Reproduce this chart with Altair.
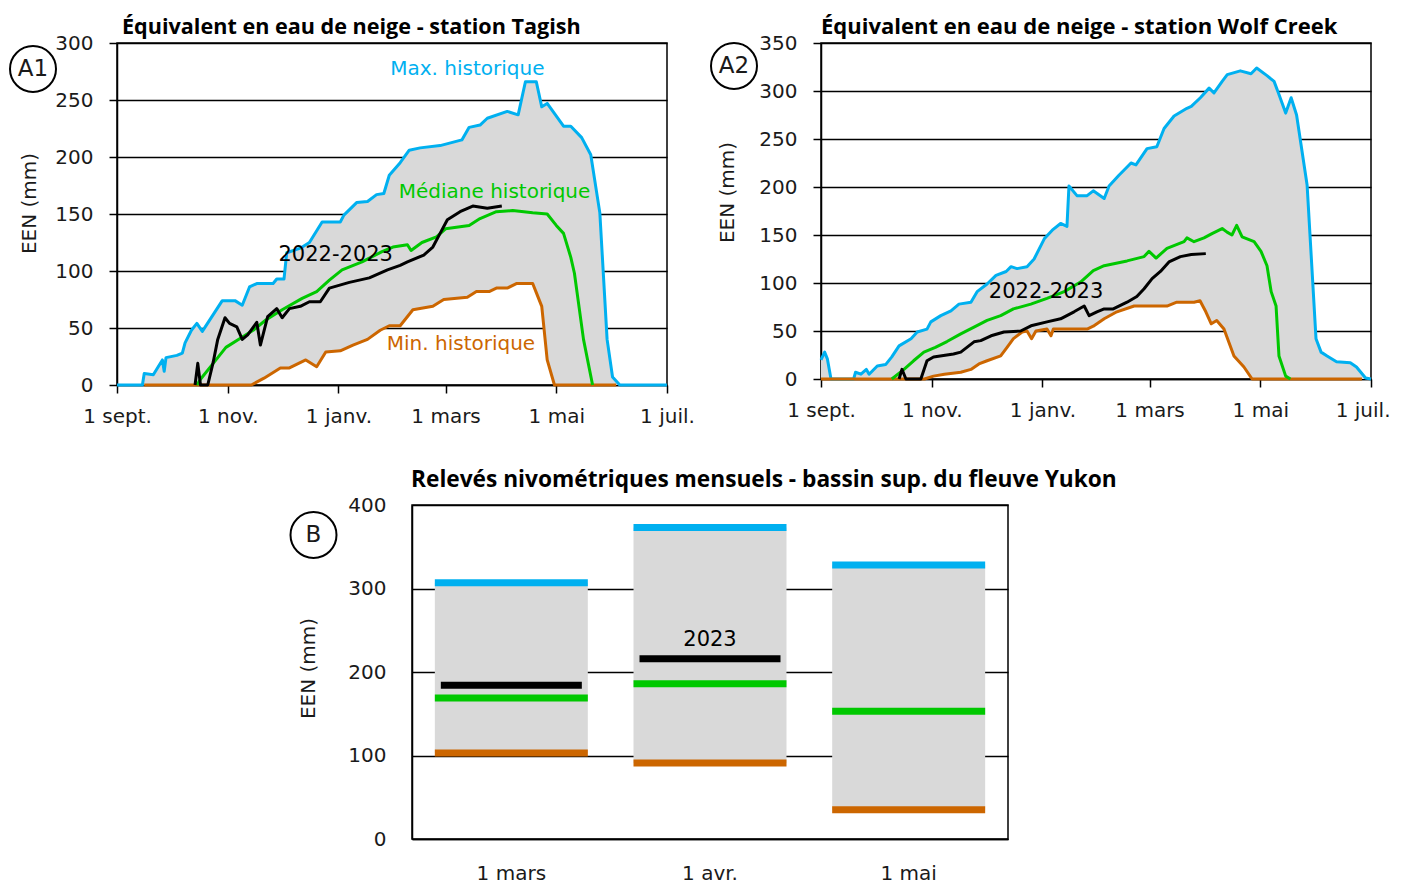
import altair as alt
import pandas as pd
import numpy as np

FONT = "DejaVu Sans"
TITLE_FONT = "Open Sans"
BLUE = "#00b0f0"
GREEN = "#00c800"
ORANGE = "#cc6600"
GREY = "#d9d9d9"
INK = "#1a1a1a"

# x axis (days since 1 Sept 2022)
tick_days = [0, 61, 122, 181, 242, 303]
tick_labels = ["1 sept.", "1 nov.", "1 janv.", "1 mars", "1 mai", "1 juil."]

# ---------------- A1 : Tagish ----------------
tag_max_day = [0, 14, 15, 20, 25, 26, 27, 33, 36, 37.5, 41, 44, 47, 58, 65, 69, 73, 77, 86, 88, 92, 93.5,
               101, 106, 113, 123, 125, 132, 138, 143, 147, 150, 156, 161, 167, 178, 190, 194, 200, 204,
               215, 221, 225, 231, 234, 237, 246, 250, 256, 261, 266, 270, 273, 277, 303]
tag_max_val = [0, 0, 10, 9, 22, 12, 24, 26, 28, 37, 48, 54, 47, 74, 74, 70, 86, 89, 89, 93, 93, 116,
               120, 125, 143, 143, 149, 160, 161, 167, 168, 184, 195, 206, 208, 210, 215, 226, 228, 234,
               240, 237, 266, 266, 244, 247, 227, 227, 217, 202, 151, 40, 7, 0, 0]
tag_med_day = [44, 46, 53, 60, 68, 75, 82, 91, 102, 110, 117, 124, 135, 146, 152, 160, 162, 168, 176, 181,
               194, 200, 209, 218, 229, 237, 242, 246, 250, 252, 257, 262]
tag_med_val = [0, 5, 19, 33, 41, 48, 57, 66, 76, 82, 92, 101, 108, 117, 121, 123, 118, 125, 130, 137,
               140, 146, 152, 153, 151, 150, 140, 133, 112, 98, 40, 0]
tag_min_day = [15, 74, 81, 90, 95, 104, 110, 115, 123, 130, 138, 145, 150, 156, 163, 174, 180, 193, 198,
               205, 209, 215, 220, 229, 231, 234, 237, 241, 275]
tag_min_val = [0, 0, 6, 15, 15, 22, 16, 29, 30, 35, 40, 48, 52, 52, 66, 69, 75, 77, 82,
               82, 85, 85, 89, 89, 81, 69, 22, 0, 0]
tag_cur_day = [43, 44.5, 46, 50, 53, 55.5, 59.5, 62, 66, 69, 72, 77, 79, 83, 88, 91, 95, 101, 106, 112,
               117, 128, 139, 149, 156, 160, 169, 174, 178, 182, 189, 196, 204, 212]
tag_cur_val = [0, 19, 0, 0, 20, 40, 59, 54, 51, 40, 44, 55, 35, 60, 67, 59, 67, 69, 73, 73,
               85, 90, 94, 101, 105, 108, 114, 121, 133, 145, 152, 157, 155, 157]
tag_lbl_text = ["Max. historique", "Médiane historique", "2022-2023", "Min. historique"]
tag_lbl_day = [193, 208, 120.5, 189.5]
tag_lbl_val = [277, 169, 114, 36]
tag_lbl_col = [BLUE, GREEN, "#000000", ORANGE]
tag_lbl_size = [20, 20, 21, 20]

# ---------------- A2 : Wolf Creek ----------------
wc_max_day = [0, 2, 3.5, 5.5, 18, 19, 22, 25, 26.5, 31, 35.6, 39, 43, 49.6, 53, 58.4, 60.5, 66, 71.6, 76,
              82.6, 86, 91.5, 96.4, 102, 104.7, 108, 113.5, 117.4, 123, 127.4, 132, 135.5, 136.6, 141,
              146.6, 150, 156, 158.7, 164, 170.8, 173.5, 179.6, 185, 189, 194.5, 201.6, 204, 209, 213.8,
              216.5, 221, 223.8, 231, 236.9, 240, 245.7, 249.6, 252, 256, 259, 262, 267.8, 272.7, 275.5,
              278.8, 284, 291.6, 295, 300, 303]
wc_max_val = [20, 28, 21, 0, 0, 7, 5, 10, 5, 13.6, 15, 23, 34.5, 42, 49, 52, 59.5, 66, 71, 78,
              80, 91, 99, 108, 112, 117, 115, 117, 125, 146, 155, 162, 159, 201, 191,
              191, 196, 188, 201, 212, 225, 223, 240, 242, 261, 274, 282, 284, 293, 303,
              298, 310, 317, 321, 318, 324, 316, 310, 298, 277, 293, 275, 202, 42, 28,
              24, 18, 17, 12.5, 1, 0]
wc_med_day = [39, 45.7, 51, 56.7, 63, 69.4, 77, 84.3, 91.5, 99, 106, 115.6, 124.5, 134, 143, 150, 156,
              168.6, 178, 180.7, 184.6, 190.6, 200, 201.6, 205.5, 211, 215.4, 221, 223.7, 226.4, 229, 232,
              238.6, 242.4, 245.7, 248, 250.7, 252.3, 256, 258.6]
wc_med_val = [0, 10, 19, 28, 33, 39, 47, 54, 61, 66, 73, 78, 84, 91, 101, 113, 118,
              123, 127.5, 133, 126, 136, 143, 147, 143, 147, 151.5, 156.7, 153, 150, 160, 148,
              143, 133, 118, 91, 76, 24, 3, 0]
wc_min_day = [0, 57, 62, 68, 77, 82.6, 87, 91.5, 99, 102.5, 106, 110.8, 113.5, 116, 118.4, 124.5, 126.7,
              128, 146.6, 150, 156, 163, 172.5, 190.6, 196, 205.5, 208.8, 212, 215, 218, 222, 227.5, 233,
              237.5, 298]
wc_min_val = [0, 0, 3, 5, 7, 10, 15.7, 19, 24, 33, 42, 49, 50, 42, 50, 52, 45,
              52, 52, 55, 62.7, 70, 76, 76, 80, 80, 81.5, 70, 57.5, 61, 52, 24, 12.5,
              0, 0]
wc_cur_day = [43, 44.6, 46.8, 55, 58.4, 62, 73, 77, 84.3, 88, 93.7, 100.8, 110, 115.7, 124.5, 132, 139.4,
              145, 147.7, 152, 156, 161, 168.6, 174, 178, 182.4, 187, 191.7, 198, 204, 212]
wc_cur_val = [0, 10, 0, 0, 19, 23, 26, 28, 38.7, 40, 45, 49, 50, 55.4, 59.5, 62.7, 70,
              76, 66, 70, 73, 73, 80, 86, 94, 104.5, 112, 122, 127.5, 129.6, 130.6]
wc_lbl_text = ["2022-2023"]
wc_lbl_day = [124]
wc_lbl_val = [91]
wc_lbl_col = ["#000000"]
wc_lbl_size = [21]

# ---------------- B : monthly surveys ----------------
b_months = ["1 mars", "1 avr.", "1 mai"]
b_max = [307, 373, 328]
b_median = [169, 186, 153]
b_min = [103, 91, 35]
b_2023 = [184, 216, None]

label_expr = ("[" + ",".join(f"'{t}'" for t in tick_labels) + "][indexof(["
              + ",".join(str(d) for d in tick_days) + "], datum.value)]")
last_test = f"datum.value == {tick_days[-1]}"


def circle_label(text, cx, cy):
    d = pd.DataFrame({"t": [text]})
    ring = alt.Chart(d).mark_point(shape="circle", size=2116, filled=False, stroke="black",
                                   strokeWidth=2, opacity=1).encode(x=alt.value(cx), y=alt.value(cy))
    txt = alt.Chart(d).mark_text(font=FONT, fontSize=23, color=INK).encode(
        x=alt.value(cx), y=alt.value(cy), text="t:N")
    return [ring, txt]


def title_text(text, dx, dy, size):
    d = pd.DataFrame({"t": [text]})
    return alt.Chart(d).mark_text(font=TITLE_FONT, fontSize=size, fontWeight="bold", color="#000000",
                                  align="left", baseline="alphabetic").encode(
        x=alt.value(dx), y=alt.value(dy), text="t:N")


def station(title, ytop, height, mx, mn, med, cur, lbl, circ, ttx, tty, tdx, tsize, pull_last):
    max_d, max_v = mx
    min_d, min_v = mn
    grid = sorted(set(max_d) | set(min_d))
    band = pd.DataFrame({"day": grid,
                         "hi": np.interp(grid, max_d, max_v),
                         "lo": np.interp(grid, min_d, min_v, left=0, right=0)})
    xaxis_kw = dict(values=tick_days, labelExpr=label_expr, grid=False, tickSize=8,
                    labelPadding=13, title=None, labelFlush=False)
    if pull_last:
        xaxis_kw["labelAlign"] = {"condition": {"test": last_test, "value": "right"}, "value": "center"}
        xaxis_kw["labelOffset"] = {"condition": {"test": last_test, "value": 19}, "value": 0}
    x = alt.X("day:Q", scale=alt.Scale(domain=[0, 303], nice=False, zero=False),
              axis=alt.Axis(**xaxis_kw))
    y = alt.Y("hi:Q", scale=alt.Scale(domain=[0, ytop], nice=False),
              axis=alt.Axis(values=list(range(0, ytop + 1, 50)), grid=True, tickSize=8,
                            labelPadding=16, title="EEN (mm)", titleX=ttx, titleY=tty,
                            labelFlush=False))
    layers = [alt.Chart(band).mark_area(color=GREY, opacity=1).encode(x=x, y=y, y2="lo:Q")]
    for (d, v), col in [(mx, BLUE), (mn, ORANGE), (med, GREEN), (cur, "#000000")]:
        df = pd.DataFrame({"day": d, "val": v})
        layers.append(alt.Chart(df).mark_line(color=col, strokeWidth=3, strokeJoin="round")
                      .encode(x="day:Q", y="val:Q"))
    t, dd, vv, cc, ss = lbl
    ldf = pd.DataFrame({"text": t, "day": dd, "val": vv, "col": cc, "size": ss})
    layers.append(alt.Chart(ldf).mark_text(font=FONT).encode(
        x="day:Q", y="val:Q", text="text:N", color=alt.Color("col:N", scale=None),
        size=alt.Size("size:Q", scale=None)))
    layers += circle_label(*circ)
    layers.append(title_text(title, tdx, -9, tsize))
    return alt.layer(*layers).properties(width=550, height=height)


a1 = station("Équivalent en eau de neige - station Tagish", 300, 342,
             (tag_max_day, tag_max_val), (tag_min_day, tag_min_val),
             (tag_med_day, tag_med_val), (tag_cur_day, tag_cur_val),
             (tag_lbl_text, tag_lbl_day, tag_lbl_val, tag_lbl_col, tag_lbl_size),
             ("A1", -84, 26), -77.5, 160, 5, 21.6, False)
a2 = station("Équivalent en eau de neige - station Wolf Creek", 350, 336,
             (wc_max_day, wc_max_val), (wc_min_day, wc_min_val),
             (wc_med_day, wc_med_val), (wc_cur_day, wc_cur_val),
             (wc_lbl_text, wc_lbl_day, wc_lbl_val, wc_lbl_col, wc_lbl_size),
             ("A2", -87, 23), -83.5, 149, 0, 22, True)

bdf = pd.DataFrame({"month": b_months, "max": b_max, "median": b_median, "min": b_min, "cur": b_2023})
bx = alt.X("month:N", sort=b_months,
           scale=alt.Scale(paddingInner=0.23, paddingOuter=0.115),
           axis=alt.Axis(labelAngle=0, ticks=False, labelPadding=24, title=None))
by = alt.Y("min:Q", scale=alt.Scale(domain=[0, 400], nice=False),
           axis=alt.Axis(values=[0, 100, 200, 300, 400], ticks=False, labelPadding=26, grid=True,
                         title="EEN (mm)", titleX=-93.5, titleY=163))
b_layers = [alt.Chart(bdf).mark_bar(color=GREY).encode(x=bx, y=by, y2="max:Q")]
for field, col, size in [("min", ORANGE, 153), ("median", GREEN, 153), ("max", BLUE, 153)]:
    b_layers.append(alt.Chart(bdf).mark_tick(color=col, thickness=7, size=size, opacity=1)
                    .encode(x=alt.X("month:N", sort=b_months), y=alt.Y(f"{field}:Q")))
cur_df = bdf.dropna(subset=["cur"])
b_layers.append(alt.Chart(cur_df).mark_tick(color="#000000", thickness=7, size=141, opacity=1)
                .encode(x=alt.X("month:N", sort=b_months), y=alt.Y("cur:Q")))
b_layers.append(alt.Chart(cur_df[cur_df["month"] == "1 avr."]).mark_text(
    font=FONT, fontSize=21, dy=-19, color="#000000").encode(
    x=alt.X("month:N", sort=b_months), y="cur:Q", text=alt.value("2023")))
b_layers += circle_label("B", -98.5, 30)
b_layers.append(title_text("Relevés nivométriques mensuels - bassin sup. du fleuve Yukon", -1, -18, 22.7))
bchart = alt.layer(*b_layers).properties(width=596, height=334)

spacer = alt.Chart(pd.DataFrame({"v": [0]})).mark_point(size=0, opacity=0).encode(
    x=alt.value(0), y=alt.value(0)).properties(
    width=168, height=10, view=alt.ViewBackground(strokeOpacity=0, strokeWidth=0))

row1 = alt.hconcat(a1, a2, spacing=10)
row2 = alt.hconcat(spacer, bchart, spacing=0)
chart = alt.vconcat(row1, row2, spacing=41).properties(
    padding={"left": -3, "top": 7, "right": 0, "bottom": 0}
).configure_view(stroke="black", strokeWidth=1.5).configure_axis(
    labelFont=FONT, labelFontSize=20, labelColor=INK, titleFont=FONT, titleFontSize=20,
    titleFontWeight="normal", titleColor=INK, domainColor="black", domainWidth=1.5,
    tickColor="black", tickWidth=1.5, gridColor="black", gridWidth=1.5, gridOpacity=1
).configure_text(font=FONT)

chart.save("out.html", embed_options={"renderer": "svg", "actions": False})
